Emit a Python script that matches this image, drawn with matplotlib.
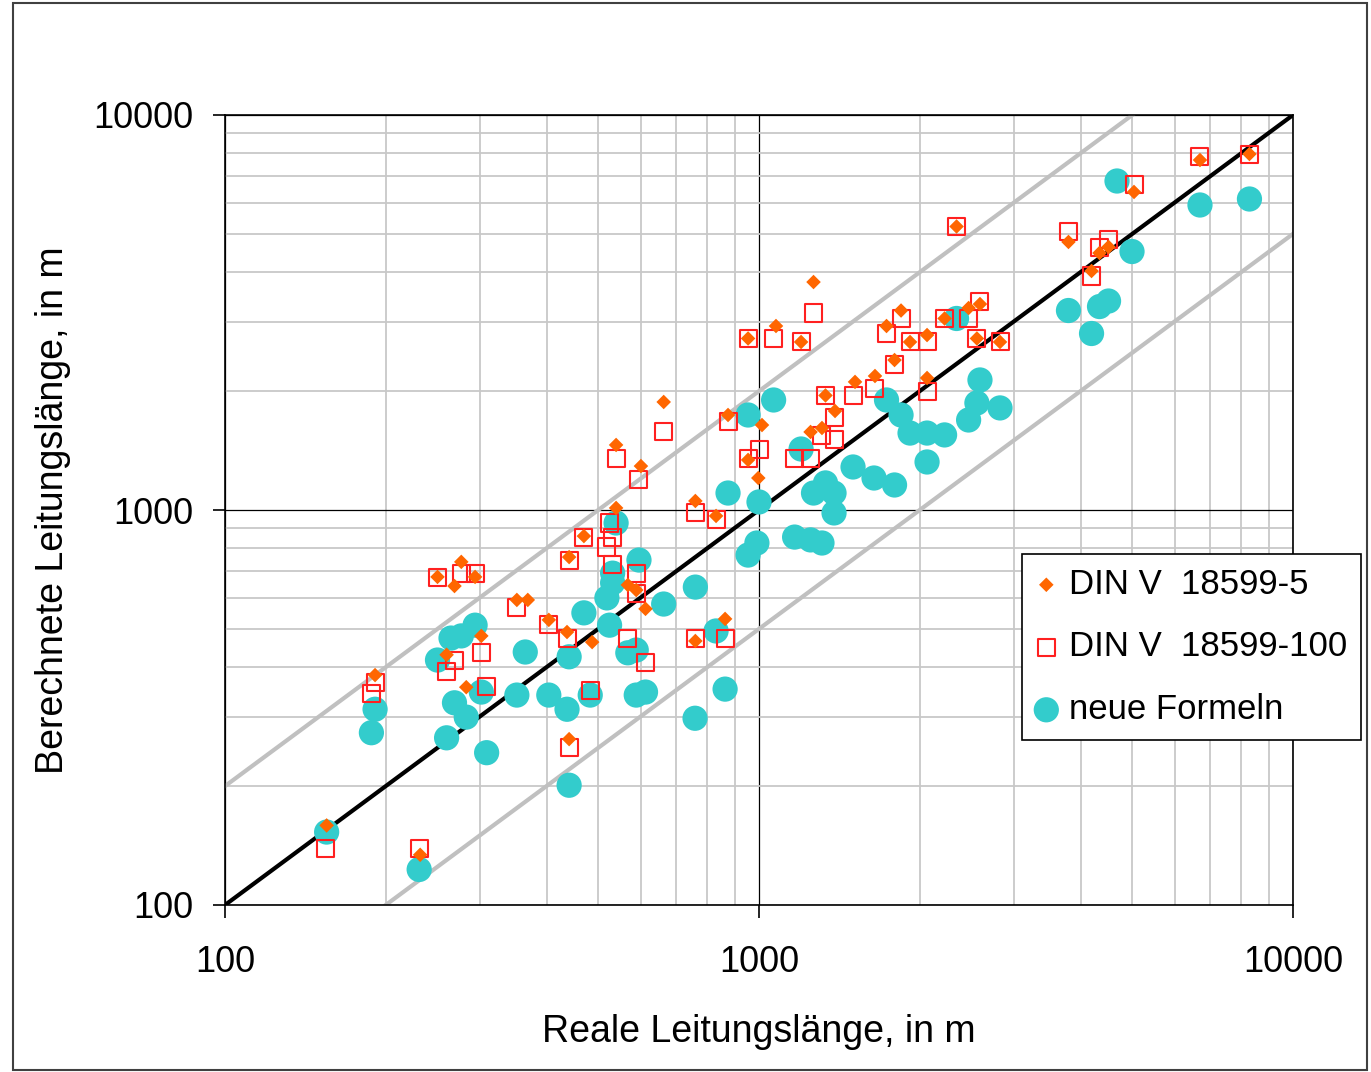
import numpy as np
import matplotlib
matplotlib.use('Agg')
import matplotlib.pyplot as plt
from matplotlib.patches import Rectangle
from matplotlib.ticker import LogLocator, NullFormatter, FixedLocator

# --- Datos (Leitungslänge real vs. berechnet, in m) ---
neu_real = [155, 231, 191, 188, 250, 265, 277, 294, 269, 283, 302, 260, 309, 352,
            365, 404, 437, 441, 441, 470, 483, 519, 525, 532, 532, 540, 568, 589,
            596, 589, 613, 663, 760, 759, 831, 864, 875, 954, 954, 991, 1000, 1065,
            1166, 1199, 1249, 1312, 1265, 1332, 1382, 1382, 1500, 1642, 1733, 1794,
            1845, 1918, 2064, 2064, 2226, 2344, 2469, 2559, 2593, 2827, 3798, 4195,
            4342, 4514, 4682, 4995, 6696, 8288]
neu_calc = [153, 123, 313, 273, 417, 474, 480, 511, 325, 299, 346, 265, 243, 340,
            437, 340, 313, 201, 425, 549, 340, 599, 511, 654, 692, 927, 435, 442,
            747, 340, 346, 578, 638, 297, 494, 352, 1104, 1740, 769, 825, 1048, 1899,
            854, 1427, 840, 825, 1104, 1171, 1104, 983, 1285, 1205, 1899, 1157,
            1740, 1566, 1566, 1323, 1549, 3054, 1690, 1866, 2134, 1813, 3199, 2798,
            3274, 3381, 6806, 4512, 5918, 6128]

din100_real = [250, 277, 294, 352, 191, 188, 302, 269, 260, 309, 154, 231, 663, 875,
               1004, 954, 540, 596, 759, 831, 525, 532, 519, 470, 441, 532, 589, 589,
               404, 437, 568, 760, 864, 613, 483, 441, 2344, 1265, 1065, 954, 1199,
               1733, 1845, 1918, 2064, 2226, 2469, 2593, 2559, 2827, 1794, 1642, 1500,
               2064, 1332, 1382, 1312, 1382, 1166, 1249, 6696, 8288, 5038, 3798, 4342,
               4514, 4195]
din100_calc = [673, 692, 692, 568, 365, 344, 437, 417, 389, 358, 139, 139, 1576, 1671,
               1419, 1354, 1354, 1198, 988, 944, 927, 854, 806, 854, 743, 726, 692, 616,
               514, 472, 474, 472, 472, 410, 350, 251, 5221, 3153, 2718, 2718, 2663,
               2798, 3054, 2663, 2663, 3054, 3054, 3381, 2718, 2663, 2342, 2025, 1950,
               1995, 1950, 1710, 1544, 1512, 1354, 1354, 7873, 7965, 6688, 5085, 4607,
               4826, 3912]

din5_real = [250, 277, 294, 269, 352, 191, 302, 260, 283, 155, 232, 663, 875, 1013,
             954, 997, 540, 601, 760, 831, 540, 470, 441, 568, 589, 613, 369, 404,
             437, 487, 760, 864, 441, 2344, 1265, 1076, 954, 1199, 1733, 1845, 1918,
             2064, 2226, 2469, 2593, 2559, 2827, 1794, 1649, 1513, 2064, 1332, 1388,
             1249, 1312, 6696, 8288, 5038, 3798, 4342, 4514, 4195]
din5_calc = [677, 739, 677, 642, 592, 382, 480, 430, 356, 159, 134, 1877, 1740, 1641,
             1339, 1205, 1461, 1292, 1054, 966, 1012, 859, 760, 646, 627, 562, 592, 527,
             491, 463, 466, 530, 263, 5221, 3777, 2923, 2718, 2663, 2923, 3199, 2663,
             2773, 3054, 3246, 3322, 2718, 2663, 2397, 2184, 2110, 2159, 1950, 1781,
             1576, 1613, 7692, 7965, 6385, 4771, 4473, 4634, 4028]

achse = [100, 10000]
faktoren = [0.5, 2.0]

plt.rcParams['font.family'] = ['Liberation Sans', 'DejaVu Sans']

fig = plt.figure(figsize=(13.71, 10.72), dpi=100)
ax = fig.add_axes([225 / 1371, 1 - 905 / 1072, 1068 / 1371, 790 / 1072])

# Rahmen um die ganze Grafik
fig.patches.append(Rectangle((13 / 1371, 2 / 1072), 1354 / 1371, 1067 / 1072,
                             transform=fig.transFigure, fill=False,
                             edgecolor='#404040', linewidth=1.5, zorder=0))

ax.set_xscale('log')
ax.set_yscale('log')
ax.set_xlim(100, 10000)
ax.set_ylim(100, 10000)

# Gitter
ax.xaxis.set_major_locator(FixedLocator([100, 1000, 10000]))
ax.yaxis.set_major_locator(FixedLocator([100, 1000, 10000]))
ax.xaxis.set_minor_locator(LogLocator(base=10, subs=np.arange(2, 10)))
ax.yaxis.set_minor_locator(LogLocator(base=10, subs=np.arange(2, 10)))
ax.xaxis.set_minor_formatter(NullFormatter())
ax.yaxis.set_minor_formatter(NullFormatter())
ax.set_xticklabels(['100', '1000', '10000'])
ax.set_yticklabels(['100', '1000', '10000'])
ax.grid(True, which='minor', color='#c8c8c8', linewidth=1.3, zorder=0)
ax.grid(True, which='major', color='black', linewidth=0.9, zorder=0)
ax.set_axisbelow(True)
ax.tick_params(which='major', direction='out', length=9, width=1.2,
               labelsize=26, pad=14)
ax.tick_params(axis='x', which='major', pad=20)
ax.tick_params(which='minor', length=0)
for s in ax.spines.values():
    s.set_linewidth(1.2)

# Linien y=x, y=2x, y=0.5x
xs = np.array(achse, dtype=float)
for f in faktoren:
    ax.plot(xs, xs * f, color='#c0c0c0', linewidth=3, zorder=2)
ax.plot(xs, xs, color='black', linewidth=3, zorder=3)

ax.scatter(neu_real, neu_calc, s=330, color='#33cccc', edgecolors='none',
           zorder=4, label='neue Formeln')
ax.scatter(din100_real, din100_calc, s=150, marker='s', facecolors='none',
           edgecolors='#ff2020', linewidths=1.5, zorder=5, label='DIN V  18599-100')
ax.scatter(din5_real, din5_calc, s=55, marker='D', color='#ff6600',
           edgecolors='none', zorder=6, label='DIN V  18599-5')

ax.set_xlabel('Reale Leitungslänge, in m', fontsize=27, labelpad=24)
ax.set_ylabel('Berechnete Leitungslänge, in m', fontsize=27, labelpad=16)

handles, labels = ax.get_legend_handles_labels()
order = [2, 1, 0]
leg = fig.legend([handles[i] for i in order], [labels[i] for i in order],
                 loc='upper left', bbox_to_anchor=(1022 / 1371, 1 - 554 / 1072),
                 fontsize=25, frameon=True, fancybox=False, edgecolor='black',
                 framealpha=1, handlelength=0.6, handletextpad=0.35,
                 borderpad=0.4, labelspacing=0.85, borderaxespad=0)
leg.get_frame().set_linewidth(1.2)
leg.set_zorder(10)

fig.savefig('out.png', dpi=100)
